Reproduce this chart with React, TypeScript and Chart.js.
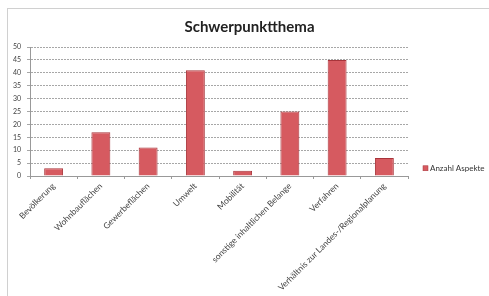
import React, { useEffect, useRef } from "react";
import { Chart, registerables } from "chart.js";

Chart.register(...registerables);

const chartTitle = "Schwerpunktthema";
const categories = [
  "Bevölkerung",
  "Wohnbauflächen",
  "Gewerbeflächen",
  "Umwelt",
  "Mobilität",
  "sonstige inhaltlichen Belange",
  "Verfahren",
  "Verhältnis zur Landes-/Regionalplanung",
];
const seriesName = "Anzahl Aspekte";
const values = [3, 17, 11, 41, 2, 25, 45, 7];
const yTicks = [0, 5, 10, 15, 20, 25, 30, 35, 40, 45, 50];

const FONT = "Lato, 'Open Sans', sans-serif";
const BAR_FILL = "#d65a60";
const BAR_LINE = "#a8343a";

const decorations = {
  id: "decorations",
  afterDraw(chart: any) {
    const { ctx, chartArea, width } = chart;
    const ds = chart.data.datasets[0];
    ctx.save();
    // title centred on the whole frame
    ctx.fillStyle = "#222";
    ctx.font = `bold 15px ${FONT}`;
    ctx.textAlign = "center";
    ctx.textBaseline = "middle";
    ctx.fillText(chartTitle, (width + 10) / 2, 27);
    // legend at the right
    const x = chartArea.right + 15;
    const y = chartArea.top + (chartArea.bottom - chartArea.top) * 0.94;
    ctx.fillStyle = ds.backgroundColor;
    ctx.fillRect(x, y - 2.5, 5, 5);
    ctx.strokeStyle = ds.borderColor;
    ctx.lineWidth = 0.5;
    ctx.strokeRect(x, y - 2.5, 5, 5);
    ctx.fillStyle = "#333";
    ctx.font = `8px ${FONT}`;
    ctx.textAlign = "left";
    ctx.fillText(ds.label, x + 7, y);
    ctx.restore();
  },
};

export default function App() {
  const ref = useRef<HTMLCanvasElement | null>(null);
  useEffect(() => {
    if (!ref.current) return;
    document.body.style.margin = "0";
    const chart = new Chart(ref.current, {
      type: "bar",
      data: {
        labels: categories,
        datasets: [
          {
            label: seriesName,
            data: values,
            backgroundColor: BAR_FILL,
            borderColor: BAR_LINE,
            borderWidth: 1,
            barPercentage: 0.4,
            categoryPercentage: 1,
          },
        ],
      },
      plugins: [decorations],
      options: {
        animation: false,
        responsive: false,
        devicePixelRatio: 1,
        layout: { padding: { left: 4, right: 81, top: 47, bottom: 4 } },
        plugins: {
          title: { display: false },
          legend: { display: false },
          tooltip: { enabled: false },
        },
        scales: {
          x: {
            grid: {
              display: true,
              drawOnChartArea: false,
              drawTicks: true,
              tickLength: 3,
              color: "#999",
              offset: true,
            },
            border: { display: true, color: "#999" },
            ticks: {
              color: "#444",
              font: { family: FONT, size: 8.5 },
              maxRotation: 45,
              minRotation: 45,
              autoSkip: false,
              padding: 2,
            },
            afterFit: (s: any) => {
              s.height = 116;
            },
          },
          y: {
            min: 0,
            max: 50,
            afterBuildTicks: (s: any) => {
              s.ticks = yTicks.map((v) => ({ value: v }));
            },
            grid: {
              color: "rgba(130,130,130,0.7)",
              tickLength: 3,
            },
            border: { display: true, color: "#999", dash: [2, 1] },
            ticks: {
              color: "#444",
              font: { family: FONT, size: 7 },
              padding: 6,
            },
            afterFit: (s: any) => {
              s.width = 26;
            },
          },
        },
      },
    });
    return () => chart.destroy();
  }, []);
  return (
    <div style={{ position: "relative", width: 489, height: 296, background: "#fff" }}>
      <div
        style={{
          position: "absolute",
          left: 7,
          top: 8,
          right: 0,
          bottom: 0,
          border: "1px solid #d0d0d0",
          borderRight: "none",
          borderBottom: "none",
        }}
      />
      <canvas ref={ref} width={489} height={296} style={{ position: "absolute", left: 0, top: 0 }} />
    </div>
  );
}
